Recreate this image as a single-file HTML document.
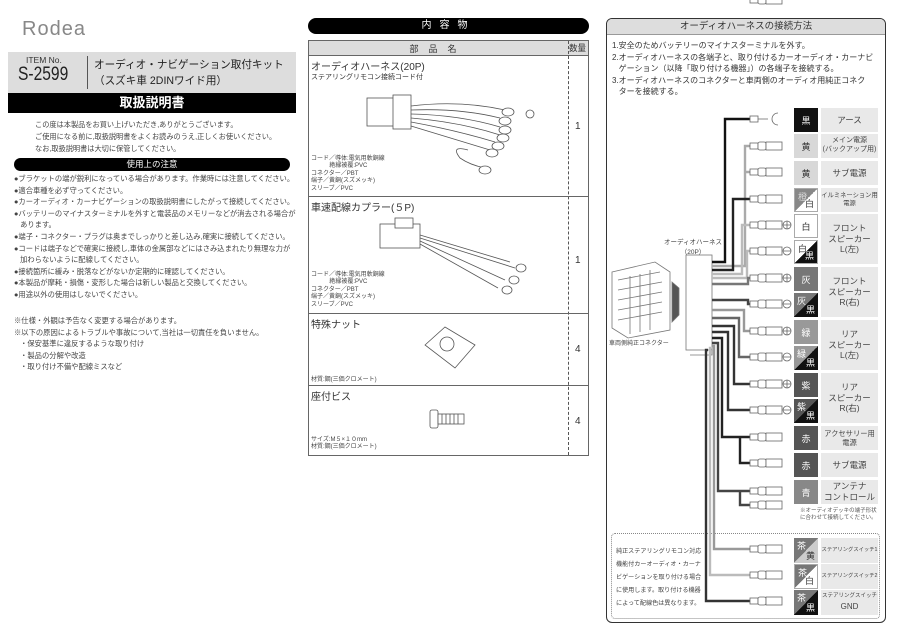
<!DOCTYPE html>
<html><head><meta charset="utf-8">
<style>
*{margin:0;padding:0;box-sizing:border-box}
body{width:900px;height:636px;background:#fff;position:relative;overflow:hidden;font-family:"Liberation Sans","Noto Sans CJK JP",sans-serif;color:#333}
.a{position:absolute;white-space:nowrap}
.s{font-size:7.2px;color:#444}
.cb{position:absolute;left:794px;width:24px;font-size:9px;display:flex;align-items:center;justify-content:center;color:#fff}
.lb{position:absolute;left:821px;width:57px;background:#e9e9e9;font-size:8.5px;line-height:1.25;display:flex;align-items:center;justify-content:center;text-align:center;color:#444;white-space:nowrap;overflow:hidden}
.d{position:absolute;left:794px;width:24px;font-size:9px}
.d span{position:absolute}
.d .t{left:3px;top:1px}
.d .b{right:3px;bottom:1px}
.row{position:absolute;left:308px;width:281px;border-bottom:1px solid #666}
</style></head><body>

<!-- LEFT -->
<div class="a" style="left:22px;top:18px;font-size:20px;color:#888;letter-spacing:1px;font-weight:300">Rodea</div>
<div class="a" style="left:8px;top:52px;width:288px;height:41px;background:#ddd"></div>
<div class="a" style="left:26px;top:55px;font-size:8.5px">ITEM No.</div>
<div class="a" style="left:18px;top:64px;font-size:19px;color:#222;transform:scaleX(0.82);transform-origin:left">S-2599</div>
<div class="a" style="left:87px;top:56px;width:1px;height:33px;background:#555"></div>
<div class="a" style="left:94px;top:57px;font-size:10.6px;color:#222">オーディオ・ナビゲーション取付キット</div>
<div class="a" style="left:94px;top:73px;font-size:10.6px;color:#222">（スズキ車 2DINワイド用）</div>
<div class="a" style="left:8px;top:93px;width:288px;height:20px;background:#000;color:#fff;font-size:13px;font-weight:bold;text-align:center;line-height:20px">取扱説明書</div>
<div class="a s" style="left:35px;top:119px;line-height:12px">この度は本製品をお買い上げいただき,ありがとうございます。<br>ご使用になる前に,取扱説明書をよくお読みのうえ,正しくお使いください。<br>なお,取扱説明書は大切に保管してください。</div>
<div class="a" style="left:14px;top:158px;width:276px;height:13px;background:#000;border-radius:7px;color:#fff;font-size:8.5px;text-align:center;line-height:13px">使用上の注意</div>
<div class="a s" style="left:14px;top:173px;line-height:11.6px;font-size:7.3px">●ブラケットの端が鋭利になっている場合があります。作業時には注意してください。<br>●適合車種を必ず守ってください。<br>●カーオーディオ・カーナビゲーションの取扱説明書にしたがって接続してください。<br>●バッテリーのマイナスターミナルを外すと電装品のメモリーなどが消去される場合が<br>&nbsp;&nbsp;&nbsp;あります。<br>●端子・コネクター・プラグは奥までしっかりと差し込み,確実に接続してください。<br>●コードは端子などで確実に接続し,車体の金属部などにはさみ込まれたり無理な力が<br>&nbsp;&nbsp;&nbsp;加わらないように配線してください。<br>●接続箇所に緩み・脱落などがないか定期的に確認してください。<br>●本製品が摩耗・損傷・変形した場合は新しい製品と交換してください。<br>●用途以外の使用はしないでください。</div>
<div class="a s" style="left:14px;top:315px;line-height:11.5px;font-size:7.3px">※仕様・外観は予告なく変更する場合があります。<br>※以下の原因によるトラブルや事故について,当社は一切責任を負いません。<br>&nbsp;&nbsp;&nbsp;・保安基準に違反するような取り付け<br>&nbsp;&nbsp;&nbsp;・製品の分解や改造<br>&nbsp;&nbsp;&nbsp;・取り付け不備や配線ミスなど</div>

<!-- MIDDLE -->
<div class="a" style="left:308px;top:18px;width:281px;height:16px;background:#000;border-radius:8px;color:#fff;font-size:10px;text-align:center;line-height:16px;letter-spacing:8px">内容物</div>
<div class="a" style="left:308px;top:40px;width:281px;height:416px;border:1px solid #666"></div>
<div class="a" style="left:309px;top:41px;width:279px;height:15px;background:#ddd;border-bottom:1px solid #666"></div>
<div class="a" style="left:308px;top:42px;width:260px;text-align:center;font-size:9px;letter-spacing:10px">部品名</div>
<div class="a" style="left:569px;top:42px;font-size:8.5px">数量</div>
<div class="a" style="left:568px;top:41px;height:414px;border-left:1px dashed #555"></div>
<div class="row" style="top:55px;height:142px"></div>
<div class="row" style="top:196px;height:118px"></div>
<div class="row" style="top:313px;height:73px"></div>
<div class="a" style="left:311px;top:58px;font-size:10px">オーディオハーネス(20P)</div>
<div class="a" style="left:311px;top:72px;font-size:7px">ステアリングリモコン接続コード付</div>
<div class="a" style="left:311px;top:156px;font-size:6px;line-height:7.4px;color:#444">コード／導体:電気用軟銅線<br>&nbsp;&nbsp;&nbsp;&nbsp;&nbsp;&nbsp;&nbsp;&nbsp;&nbsp;&nbsp;&nbsp;絶縁被覆:PVC<br>コネクター／PBT<br>端子／黄銅(スズメッキ)<br>スリーブ／PVC</div>
<div class="a" style="left:311px;top:199px;font-size:10px">車速配線カプラー(５P)</div>
<div class="a" style="left:311px;top:272px;font-size:6px;line-height:7.4px;color:#444">コード／導体:電気用軟銅線<br>&nbsp;&nbsp;&nbsp;&nbsp;&nbsp;&nbsp;&nbsp;&nbsp;&nbsp;&nbsp;&nbsp;絶縁被覆:PVC<br>コネクター／PBT<br>端子／黄銅(スズメッキ)<br>スリーブ／PVC</div>
<div class="a" style="left:311px;top:316px;font-size:10px">特殊ナット</div>
<div class="a" style="left:311px;top:374px;font-size:6px;color:#444">材質:鋼(三価クロメート)</div>
<div class="a" style="left:311px;top:388px;font-size:10px">座付ビス</div>
<div class="a" style="left:311px;top:437px;font-size:6px;line-height:7.4px;color:#444">サイズ:M５×１０mm<br>材質:鋼(三価クロメート)</div>
<div class="a" style="left:575px;top:121px;font-size:10px">1</div>
<div class="a" style="left:575px;top:255px;font-size:10px">1</div>
<div class="a" style="left:575px;top:344px;font-size:10px">4</div>
<div class="a" style="left:575px;top:416px;font-size:10px">4</div>

<svg class="a" style="left:0;top:0" width="900" height="636">
<g fill="#fff" stroke="#555" stroke-width="0.8">
 <rect x="367" y="98" width="30" height="28"/><rect x="393" y="95" width="18" height="34"/>
 <path d="M411 106 Q460 100 505 110 M411 110 Q460 108 500 118 M411 114 Q460 115 500 127 M411 118 Q460 122 500 135 M411 122 Q455 130 495 142 M411 126 Q450 138 490 150"/>
 <ellipse cx="508" cy="112" rx="6" ry="4"/><ellipse cx="505" cy="121" rx="6" ry="4"/><ellipse cx="505" cy="130" rx="6" ry="4"/><ellipse cx="503" cy="138" rx="6" ry="4"/><ellipse cx="498" cy="146" rx="6" ry="4"/><ellipse cx="492" cy="153" rx="6" ry="4"/>
 <circle cx="530" cy="114" r="4"/><path d="M468 150 Q450 145 460 158 Q470 165 485 168"/><ellipse cx="485" cy="170" rx="6" ry="4"/>
 <rect x="380" y="224" width="40" height="24"/><rect x="395" y="218" width="18" height="10"/>
 <path d="M420 235 L510 262 M420 238 L515 268 M420 241 L505 280 M420 244 L498 288"/>
 <ellipse cx="521" cy="268" rx="5" ry="4"/><ellipse cx="514" cy="280" rx="5" ry="4"/><ellipse cx="507" cy="290" rx="5" ry="4"/>
 <path d="M425 345 L445 327 L475 345 L455 368 Z"/><circle cx="447" cy="344" r="7"/>
 <rect x="430" y="410" width="8" height="18" rx="2"/><rect x="438" y="414" width="26" height="10"/>
 <path d="M442 414 V424 M446 414 V424 M450 414 V424 M454 414 V424 M458 414 V424"/>
</g>
</svg>

<!-- RIGHT -->
<div class="a" style="left:606px;top:18px;width:280px;height:605px;border:1.3px solid #333;border-radius:6px"></div>
<div class="a" style="left:607px;top:19px;width:278px;height:16px;background:#ddd;border-radius:5px 5px 0 0;font-size:9.5px;text-align:center;line-height:16px;border-bottom:1px solid #999">オーディオハーネスの接続方法</div>
<div class="a" style="left:612px;top:40px;font-size:8px;line-height:11.5px;color:#333">1.安全のためバッテリーのマイナスターミナルを外す。<br>2.オーディオハーネスの各端子と、取り付けるカーオーディオ・カーナビ<br>&nbsp;&nbsp;&nbsp;ゲーション（以降「取り付ける機器」）の各端子を接続する。<br>3.オーディオハーネスのコネクターと車両側のオーディオ用純正コネク<br>&nbsp;&nbsp;&nbsp;ターを接続する。</div>

<div class="cb" style="top:108px;height:24px;background:#111">黒</div><div class="lb" style="top:108px;height:24px">アース</div>
<div class="cb" style="top:134px;height:24px;background:#d8d8d8;color:#333">黄</div><div class="lb" style="top:134px;height:24px;font-size:7px">メイン電源<br>(バックアップ用)</div>
<div class="cb" style="top:161px;height:24px;background:#d8d8d8;color:#333">黄</div><div class="lb" style="top:161px;height:24px">サブ電源</div>
<div class="d" style="top:188px;height:24px;background:linear-gradient(to bottom right,#888 50%,#fff 50%);border:1px solid #aaa"><span class="t" style="color:#ddd">橙</span><span class="b">白</span></div><div class="lb" style="top:188px;height:24px;font-size:6.3px">イルミネーション用<br>電源</div>
<div class="cb" style="top:214px;height:24px;background:#fff;color:#333;border:1px solid #aaa">白</div>
<div class="d" style="top:240px;height:24px;background:linear-gradient(to bottom right,#fff 50%,#111 50%);border:1px solid #aaa"><span class="t">白</span><span class="b" style="color:#fff">黒</span></div>
<div class="lb" style="top:214px;height:50px">フロント<br>スピーカー<br>L(左)</div>
<div class="cb" style="top:267px;height:24px;background:#777">灰</div>
<div class="d" style="top:293px;height:24px;background:linear-gradient(to bottom right,#777 50%,#111 50%)"><span class="t" style="color:#fff">灰</span><span class="b" style="color:#fff">黒</span></div>
<div class="lb" style="top:267px;height:50px">フロント<br>スピーカー<br>R(右)</div>
<div class="cb" style="top:320px;height:24px;background:#999">緑</div>
<div class="d" style="top:346px;height:24px;background:linear-gradient(to bottom right,#999 50%,#111 50%)"><span class="t" style="color:#fff">緑</span><span class="b" style="color:#fff">黒</span></div>
<div class="lb" style="top:320px;height:50px">リア<br>スピーカー<br>L(左)</div>
<div class="cb" style="top:373px;height:24px;background:#555">紫</div>
<div class="d" style="top:399px;height:24px;background:linear-gradient(to bottom right,#555 50%,#111 50%)"><span class="t" style="color:#fff">紫</span><span class="b" style="color:#fff">黒</span></div>
<div class="lb" style="top:373px;height:50px">リア<br>スピーカー<br>R(右)</div>
<div class="cb" style="top:426px;height:24px;background:#555">赤</div><div class="lb" style="top:426px;height:24px;font-size:7.3px">アクセサリー用<br>電源</div>
<div class="cb" style="top:453px;height:24px;background:#555">赤</div><div class="lb" style="top:453px;height:24px">サブ電源</div>
<div class="cb" style="top:480px;height:24px;background:#888">青</div><div class="lb" style="top:480px;height:24px">アンテナ<br>コントロール</div>
<div class="a" style="left:800px;top:508px;font-size:5.5px;line-height:7px;color:#555;text-align:center">※オーディオデッキの端子形状<br>に合わせて接続してください。</div>

<div class="a" style="left:611px;top:533px;width:269px;height:86px;border:1px dotted #888;border-radius:4px"></div>
<div class="a" style="left:616px;top:545px;font-size:6.1px;line-height:13px;color:#444">純正ステアリングリモコン対応<br>機能付カーオーディオ・カーナ<br>ビゲーションを取り付ける場合<br>に使用します。取り付ける機器<br>によって配線色は異なります。</div>
<div class="d" style="top:538px;height:25px;background:linear-gradient(to bottom right,#777 50%,#ccc 50%)"><span class="t" style="color:#fff">茶</span><span class="b">黄</span></div><div class="lb" style="top:538px;height:25px;font-size:5.3px">ステアリングスイッチ1</div>
<div class="d" style="top:564px;height:25px;background:linear-gradient(to bottom right,#777 50%,#fff 50%);border:1px solid #aaa"><span class="t" style="color:#fff">茶</span><span class="b">白</span></div><div class="lb" style="top:564px;height:25px;font-size:5.3px">ステアリングスイッチ2</div>
<div class="d" style="top:590px;height:25px;background:linear-gradient(to bottom right,#777 50%,#111 50%)"><span class="t" style="color:#fff">茶</span><span class="b" style="color:#fff">黒</span></div><div class="lb" style="top:590px;height:25px;font-size:5.5px;line-height:1.6"><div>ステアリングスイッチ<br><span style="font-size:8px">GND</span></div></div>

<div class="a" style="left:664px;top:238px;font-size:6.5px;line-height:10px;color:#444;text-align:center">オーディオハーネス<br>（20P）</div>
<div class="a" style="left:609px;top:338px;font-size:6px;color:#444">車両側純正コネクター</div>

<svg class="a" style="left:0;top:0" width="900" height="636">
<g fill="#fff" stroke="#777" stroke-width="0.8">
 <path d="M612 272 L655 262 L670 272 L670 330 L628 338 L612 328 Z"/>
 <path d="M618 280 L660 272 M618 290 L662 282 M618 300 L662 292 M618 310 L662 302 M618 320 L662 312"/>
 <path d="M630 276 V334 M640 274 V332 M650 270 V330"/>
 <path d="M672 282 L679 288 L679 315 L672 322 Z" fill="#555"/>
 <rect x="686" y="255" width="26" height="95"/>
 <path d="M690 355 H712 V350" />
</g>
<g fill="none" stroke-width="2.4">
<path d="M712 262 H725 V119 H752" stroke="#111"/>
<path d="M712 266 H745 V146 H752 M745 146 V172 H752" stroke="#aaa"/>
<path d="M712 270 H733 V199 H752" stroke="#222"/>
<path d="M712 274 H742 V225 H752" stroke="#bbb"/>
<path d="M712 278 H747 V251 H752" stroke="#bbb"/>
<path d="M712 284 H748 V278 H752" stroke="#777"/>
<path d="M712 300 H748 V304 H752" stroke="#444"/>
<path d="M712 310 H744 V331 H752" stroke="#999"/>
<path d="M712 318 H739 V357 H752" stroke="#666"/>
<path d="M712 326 H734 V384 H752" stroke="#333"/>
<path d="M712 332 H728 V410 H752" stroke="#333"/>
<path d="M712 338 H722 V437 H752 M740 437 V463 H752" stroke="#222"/>
<path d="M712 343 H718 V491 H752 M740 491 V505 H752" stroke="#444"/>
<path d="M712 346 H714 V549 H752" stroke="#999"/>
<path d="M711 348 H710 V575 H752" stroke="#bbb"/>
<path d="M708 350 H706 V601 H752" stroke="#333"/>
</g>
<g fill="#fff" stroke="#666" stroke-width="0.8">
<g id="t"><rect x="750" y="-3" width="8" height="6"/><rect x="758" y="-4" width="8" height="8" rx="2"/><rect x="766" y="-4" width="16" height="8"/></g>
<use href="#t" y="146"/><use href="#t" y="172"/><use href="#t" y="199"/><use href="#t" y="225"/><use href="#t" y="251"/><use href="#t" y="278"/><use href="#t" y="304"/><use href="#t" y="331"/><use href="#t" y="357"/><use href="#t" y="384"/><use href="#t" y="410"/><use href="#t" y="437"/><use href="#t" y="463"/><use href="#t" y="491"/><use href="#t" y="505"/><use href="#t" y="549"/><use href="#t" y="575"/><use href="#t" y="601"/>
<rect x="750" y="116" width="8" height="6"/><path d="M758 119 H768 M778 113 A6 6 0 1 0 778 125"/>
<circle cx="787" cy="225" r="4"/><circle cx="787" cy="251" r="4"/><circle cx="787" cy="278" r="4"/><circle cx="787" cy="304" r="4"/><circle cx="787" cy="331" r="4"/><circle cx="787" cy="357" r="4"/><circle cx="787" cy="384" r="4"/><circle cx="787" cy="410" r="4"/>
<path d="M783 225 H791 M787 221 V229 M783 251 H791 M783 278 H791 M787 274 V282 M783 304 H791 M783 331 H791 M787 327 V335 M783 357 H791 M783 384 H791 M787 380 V388 M783 410 H791"/>
</g>
</svg>
</body></html>
